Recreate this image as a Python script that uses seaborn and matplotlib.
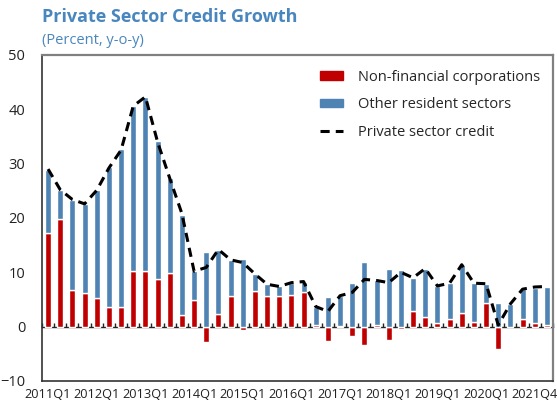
import numpy as np
import pandas as pd
import matplotlib
matplotlib.use("Agg")
import matplotlib.pyplot as plt
import seaborn as sns
from matplotlib.patches import Patch
from matplotlib.lines import Line2D

# quarterly data (percent, y-o-y)
nfc = [17.3, 19.9, 6.8, 6.2, 5.2, 3.6, 3.7, 10.2, 10.2, 8.8,
       9.8, 2.2, 4.9, -2.9, 2.3, 5.6, -0.7, 6.5, 5.6, 5.6,
       5.9, 6.4, 0.3, -2.7, 0.2, -1.7, -3.3, 0.3, -2.5, -0.4,
       2.9, 1.7, 0.7, 1.4, 2.5, 0.9, 4.3, -4.1, 0.0, 1.4,
       0.6, 0.25]
other = [11.6, 5.2, 16.5, 16.3, 19.9, 25.7, 29.0, 30.4, 32.1, 25.3,
         17.5, 18.4, 5.3, 13.8, 11.9, 6.7, 12.5, 3.2, 2.2, 1.8,
         2.2, 1.9, 3.4, 5.4, 5.5, 8.0, 11.9, 8.2, 10.6, 10.4,
         6.1, 9.0, 6.8, 6.6, 8.9, 7.1, 3.6, 4.4, 4.2, 5.5,
         6.6, 7.05]
total = [29.0, 25.2, 23.4, 22.6, 25.1, 29.2, 32.5, 40.6, 42.3, 34.0,
         27.3, 20.8, 10.2, 10.9, 14.2, 12.3, 11.8, 9.7, 7.8, 7.4,
         8.1, 8.3, 3.7, 2.8, 5.7, 6.3, 8.7, 8.5, 8.1, 10.0,
         9.0, 10.7, 7.5, 8.0, 11.4, 8.0, 7.9, 0.3, 4.2, 6.9,
         7.3, 7.4]
tick_labels = ["2011Q1", "2012Q1", "2013Q1", "2014Q1", "2015Q1", "2016Q1",
               "2017Q1", "2018Q1", "2019Q1", "2020Q1", "2021Q4"]

red = "#C00000"
blue = "#4F83B3"
title_blue = "#4A86BE"

df = pd.DataFrame({"q": np.arange(len(nfc)), "nfc": nfc, "other": other, "total": total})
df["base"] = df["nfc"].clip(lower=0)

sns.set_style("white")
plt.rcParams["font.family"] = ["Open Sans", "DejaVu Sans"]

fig = plt.figure(figsize=(5.57, 4.07), dpi=100)
ax = fig.add_axes([0.0754, 0.0639, 0.9174, 0.801])

sns.barplot(data=df, x="q", y="nfc", color=red, width=0.5, saturation=1, ax=ax)
sns.barplot(data=df, x="q", y="other", color=blue, width=0.5, saturation=1,
            bottom=df["base"].values, ax=ax)
sns.lineplot(data=df, x="q", y="total", color="black", lw=2.2,
             linestyle=(0, (3, 2)), ax=ax)

ax.set_xlim(-0.5, len(nfc) - 0.5)
ax.set_ylim(-10, 50)
ax.set_yticks(range(-10, 51, 10))
ax.set_xticks(range(0, 41, 4))
ax.set_xticklabels(tick_labels)
ax.set_xlabel("")
ax.set_ylabel("")
ax.tick_params(axis="x", length=0, pad=5, labelsize=9.2, colors="#222222")
ax.tick_params(axis="y", direction="in", length=4, width=1, pad=12,
               labelsize=10.5, colors="#222222")

for s in ["top", "right"]:
    ax.spines[s].set_color("#808080")
    ax.spines[s].set_linewidth(1.6)
for s in ["left", "bottom"]:
    ax.spines[s].set_color("#333333")
    ax.spines[s].set_linewidth(1.2)

# zero line with small category ticks
zero = ax.secondary_xaxis(10 / 60)
zero.set_xticks(np.arange(-0.5, len(nfc), 1))
zero.set_xticklabels([])
zero.tick_params(direction="in", length=3, width=1, color="#222222")
zero.spines["bottom"].set_color("#222222")
zero.spines["bottom"].set_linewidth(1)

handles = [Patch(color=red), Patch(color=blue),
           Line2D([], [], color="black", lw=2.2, linestyle=(0, (3, 2)))]
ax.legend(handles, ["Non-financial corporations", "Other resident sectors",
                    "Private sector credit"],
          loc="upper right", bbox_to_anchor=(1.0, 0.995), frameon=False,
          fontsize=10.5, labelspacing=0.85, handlelength=1.6, handleheight=0.55,
          handletextpad=1.0)

fig.text(0.075, 0.958, "Private Sector Credit Growth", fontsize=13,
         fontweight="bold", color=title_blue, va="center")
fig.text(0.075, 0.9, "(Percent, y-o-y)", fontsize=10.5, color=title_blue, va="center")

fig.savefig("out.png", dpi=100)
